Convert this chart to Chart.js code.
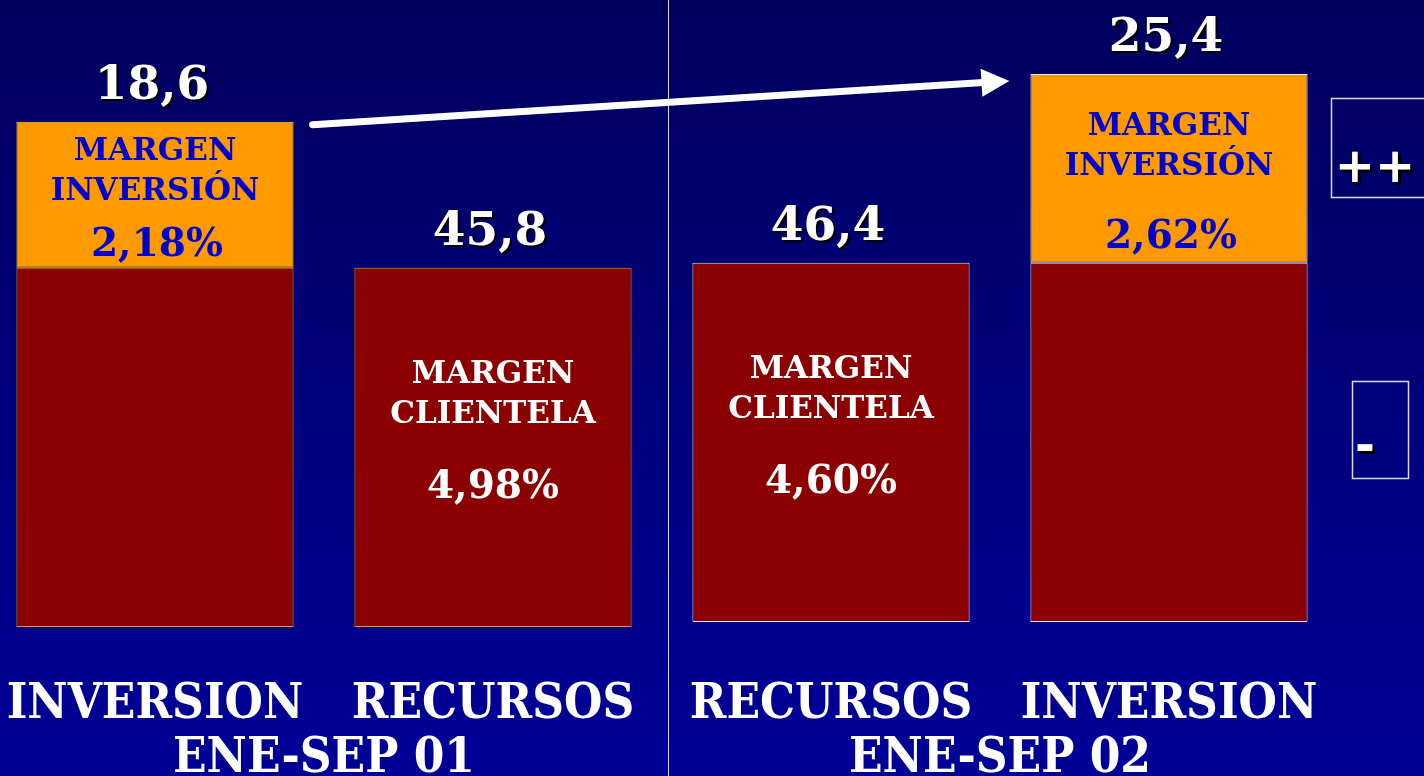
<!DOCTYPE html>
<html>
<head>
<meta charset="utf-8">
<script src="https://cdn.jsdelivr.net/npm/chart.js@4.4.1/dist/chart.umd.min.js"></script>
<style>
    html, body { margin: 0; padding: 0; }
    body {
        width: 1424px;
        height: 776px;
        overflow: hidden;
        background: linear-gradient(#00005e, #000098);
    }
</style>
</head>
<body>
<canvas id="chart" width="1424" height="776"></canvas>
<script>
// Datos del gráfico
const categories = ['INVERSION', 'RECURSOS', 'RECURSOS', 'INVERSION'];
const periods = ['ENE-SEP 01', 'ENE-SEP 02'];
const totals = ['18,6', '45,8', '46,4', '25,4'];
const barBase = [0, 0, 0.8, 0.8];
const clientelaHeight = [57.3, 57.3, 57.3, 57.3];
const inversionHeight = [23.3, null, null, 30.1];
const clientelaRate = [null, '4,98%', '4,60%', null];
const inversionRate = ['2,18%', null, null, '2,62%'];
const sideMarks = ['++', '-'];

const SERIF = '"DejaVu Serif", serif';
const COND = '"DejaVu Serif Condensed", "DejaVu Serif", serif';

// Segmentos flotantes: [inicio, fin]
const clientelaData = barBase.map((b, i) => [b, b + clientelaHeight[i]]);
const inversionData = inversionHeight.map((h, i) =>
    h === null ? null : [clientelaData[i][1], clientelaData[i][1] + h]);

function shadowText(ctx, text, x, y, off) {
    ctx.fillStyle = '#000000';
    ctx.fillText(text, x + off, y + off);
    ctx.fillStyle = '#ffffff';
    ctx.fillText(text, x, y);
}

const slidePlugin = {
    id: 'slide',
    beforeDatasetsDraw(chart) {
        const ctx = chart.ctx;
        const bars = chart.getDatasetMeta(0).data;
        // línea divisoria entre los dos periodos
        const xDiv = Math.round((bars[1].x + bars[2].x) / 2 + 6) + 0.5;
        ctx.save();
        ctx.strokeStyle = 'rgba(255,255,255,0.85)';
        ctx.lineWidth = 1;
        ctx.beginPath();
        ctx.moveTo(xDiv, 0);
        ctx.lineTo(xDiv, chart.height);
        ctx.stroke();
        ctx.restore();
    },
    afterDatasetsDraw(chart) {
        const ctx = chart.ctx;
        const red = chart.getDatasetMeta(0).data;
        const orange = chart.getDatasetMeta(1).data;
        const area = chart.chartArea;
        ctx.save();
        ctx.textAlign = 'center';
        ctx.textBaseline = 'alphabetic';

        red.forEach((bar, i) => {
            // texto dentro del margen clientela
            if (clientelaRate[i]) {
                const h = bar.base - bar.y;
                const y1 = bar.y + h * 0.32;
                ctx.fillStyle = '#ffffff';
                ctx.font = 'bold 31px ' + SERIF;
                ctx.fillText('MARGEN', bar.x, y1);
                ctx.fillText('CLIENTELA', bar.x, y1 + 40);
                ctx.font = 'bold 39px ' + SERIF;
                ctx.fillText(clientelaRate[i], bar.x, bar.y + h * 0.64);
            }
            // texto dentro del margen inversión
            let top = bar.y;
            if (inversionRate[i]) {
                const seg = orange[i];
                const h = seg.base - seg.y;
                const y2 = seg.y + h * 0.534;
                ctx.fillStyle = '#0000cc';
                ctx.font = 'bold 31px ' + SERIF;
                ctx.fillText('MARGEN', seg.x, y2 - 40);
                ctx.fillText('INVERSIÓN', seg.x, y2);
                ctx.font = 'bold 39px ' + SERIF;
                ctx.fillText(inversionRate[i], seg.x + 2, seg.y + h * 0.922);
                top = seg.y;
            }
            // total encima de cada barra
            ctx.font = 'bold 47px ' + SERIF;
            shadowText(ctx, totals[i], bar.x - 3, top - 23, 2);

            // categoría debajo
            ctx.font = 'bold 49px ' + COND;
            ctx.fillStyle = '#ffffff';
            ctx.fillText(categories[i], bar.x, area.bottom + 91);
        });

        // periodos
        ctx.font = 'bold 49px ' + COND;
        ctx.fillStyle = '#ffffff';
        periods.forEach((p, k) => {
            const cx = (red[k * 2].x + red[k * 2 + 1].x) / 2;
            ctx.fillText(p, cx, area.bottom + 145);
        });

        // flecha de crecimiento
        const x0 = red[0].x + red[0].width / 2 + 19;
        const y0 = orange[0].y + 3;
        const x1 = red[3].x - red[3].width / 2 - 21;
        const y1 = orange[3].y + 7;
        const ang = Math.atan2(y1 - y0, x1 - x0);
        const headLen = 28;
        const headHalf = 14;
        const bx = x1 - headLen * Math.cos(ang);
        const by = y1 - headLen * Math.sin(ang);
        ctx.strokeStyle = '#ffffff';
        ctx.fillStyle = '#ffffff';
        ctx.lineWidth = 7;
        ctx.lineCap = 'round';
        ctx.beginPath();
        ctx.moveTo(x0, y0);
        ctx.lineTo(bx + 2 * Math.cos(ang), by + 2 * Math.sin(ang));
        ctx.stroke();
        ctx.beginPath();
        ctx.moveTo(x1, y1);
        ctx.lineTo(bx - headHalf * Math.sin(ang), by + headHalf * Math.cos(ang));
        ctx.lineTo(bx + headHalf * Math.sin(ang), by - headHalf * Math.cos(ang));
        ctx.closePath();
        ctx.fill();

        // recuadros laterales
        ctx.strokeStyle = 'rgba(255,255,255,0.85)';
        ctx.lineWidth = 1.5;
        ctx.strokeRect(1331.5, 98.5, 100, 99);
        ctx.strokeRect(1352.5, 381.5, 56, 97);
        ctx.font = 'bold 48px "DejaVu Sans", sans-serif';
        shadowText(ctx, sideMarks[0], 1375, 182, 3);
        ctx.textAlign = 'left';
        shadowText(ctx, sideMarks[1], 1355, 461, 3);
        ctx.restore();
    }
};

const ctx = document.getElementById('chart').getContext('2d');
new Chart(ctx, {
    type: 'bar',
    data: {
        labels: categories,
        datasets: [
            {
                label: 'Margen clientela',
                data: clientelaData,
                backgroundColor: '#8b0000',
                borderColor: ['#d8a800', '#d8a800', '#e6e6e6', '#e6e6e6'],
                borderWidth: 1,
                borderSkipped: false,
                grouped: false,
                clip: false,
            },
            {
                label: 'Margen inversión',
                data: inversionData,
                backgroundColor: '#ff9900',
                borderColor: ['#ffd800', '#ffd800', '#eeeeee', '#eeeeee'],
                borderWidth: 1,
                borderSkipped: false,
                grouped: false,
                clip: false,
            },
        ],
    },
    options: {
        responsive: false,
        animation: false,
        layout: {
            padding: { left: 155, right: 255, top: 0, bottom: 149 },
        },
        plugins: {
            legend: { display: false },
            tooltip: { enabled: false },
        },
        datasets: {
            bar: { categoryPercentage: 1, barPercentage: 0.82 },
        },
        scales: {
            x: { display: false, offset: false },
            y: { display: false, min: 0, max: 100 },
        },
    },
    plugins: [slidePlugin],
});
</script>
</body>
</html>
